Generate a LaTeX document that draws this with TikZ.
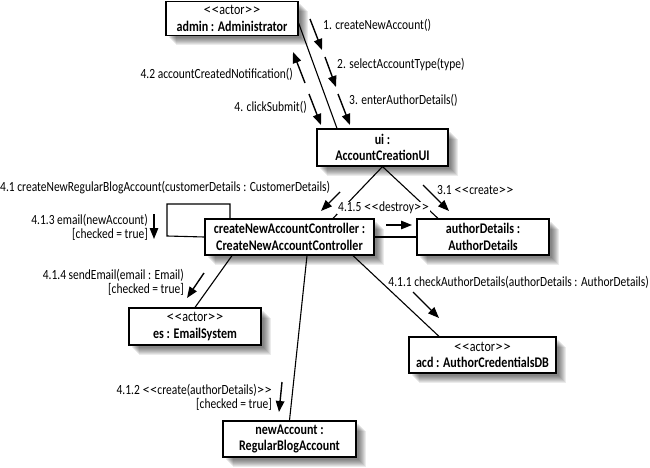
\documentclass[tikz,border=0pt]{standalone}
\usepackage{fontspec}
\usepackage{graphicx}
\setmainfont[FakeStretch=0.82]{Carlito}
\usetikzlibrary{shadows,arrows.meta}
\newcommand{\guilo}{\scalebox{1.3}[1]{<}\kern.1pt\scalebox{1.3}[1]{<}}
\newcommand{\guilc}{\scalebox{1.3}[1]{>}\kern.1pt\scalebox{1.3}[1]{>}}
\tikzset{
  softshade/.style={general shadow={shadow xshift=#1pt,shadow yshift=-#1pt,fill=black,opacity=.08}},
  objbox/.style={draw=black,fill=white,line width=1.2pt,align=center,inner sep=0pt,
    softshade=3,softshade=4,softshade=5,softshade=6,softshade=7,softshade=8,softshade=9,softshade=10,
    font=\fontsize{14.7}{16.5}\selectfont},
  wire/.style={draw=black,line width=1.1pt},
  msg/.style={draw=black,line width=1.4pt,-{Triangle[length=11pt,width=8.5pt]}},
  lab/.style={inner sep=0pt,font=\fontsize{14}{14}\selectfont,align=left},
  labr/.style={lab,align=right}
}
\begin{document}
\begin{tikzpicture}[x=1pt,y=-1pt]
\useasboundingbox (0,0) rectangle (650,468);
\coordinate (loopA) at (167,236);
\coordinate (loopB) at (167,204);
\coordinate (loopC) at (230,204);
\node[objbox,minimum width=132pt,minimum height=34pt] (admin) at (232,18.5) {\guilo actor\guilc\\\textbf{admin : Administrator}};
\node[objbox,minimum width=131pt,minimum height=37pt] (ui) at (382.5,147.5) {\textbf{ui :}\\\textbf{AccountCreationUI}};
\node[objbox,minimum width=169pt,minimum height=36pt] (ctrl) at (289.5,237) {\textbf{createNewAccountController :}\\\textbf{CreateNewAccountController}};
\node[objbox,minimum width=132pt,minimum height=36pt] (auth) at (483,237) {\textbf{authorDetails :}\\\textbf{AuthorDetails}};
\node[objbox,minimum width=132pt,minimum height=37pt] (es) at (195,326.5) {\guilo actor\guilc\\\textbf{es : EmailSystem}};
\node[objbox,minimum width=133pt,minimum height=36pt] (newacc) at (289.5,439) {\textbf{newAccount :}\\\textbf{RegularBlogAccount}};
\node[objbox,minimum width=147pt,minimum height=36pt] (acd) at (482.5,355) {\guilo actor\guilc\\\textbf{acd : AuthorCredentialsDB}};
\draw[wire] ([yshift=-4.5pt]admin.east) -- ([xshift=-45.5pt]ui.north);
\draw[wire] (ui.south) -- ([xshift=43.5pt]ctrl.north);
\draw[wire] (ui.south) -- ([xshift=-45pt]auth.north);
\draw[wire] (ctrl.east) -- (auth.west);
\draw[wire] (ctrl.west) -- (loopA) -- (loopB) -- (loopC) -- (ctrl.north -| loopC);
\draw[wire] ([xshift=-57.5pt]ctrl.south) -- (es.north);
\draw[wire] ([xshift=17.5pt]ctrl.south) -- (newacc.north);
\draw[wire] ([xshift=63.5pt]ctrl.south) -- ([xshift=-43.5pt]acd.north);
\coordinate (m1a) at (310,19);  \coordinate (m1b) at (322,50);
\coordinate (m2a) at (325,57);  \coordinate (m2b) at (336,87);
\coordinate (m3a) at (338,94);  \coordinate (m3b) at (350,125);
\coordinate (m42a) at (305,83); \coordinate (m42b) at (293,52);
\coordinate (m4a) at (309,94);  \coordinate (m4b) at (321,125);
\coordinate (m41a) at (340,192);\coordinate (m41b) at (321,211);
\coordinate (m31a) at (423,185);\coordinate (m31b) at (449,211);
\coordinate (m415a) at (386,225);\coordinate (m415b) at (412,225);
\coordinate (m411a) at (413,292);\coordinate (m411b) at (439,318);
\coordinate (m413a) at (154,214);\coordinate (m413b) at (154,239);
\coordinate (m414a) at (204,273);\coordinate (m414b) at (187,298);
\coordinate (m412a) at (282,382);\coordinate (m412b) at (279,412);
\foreach \p in {m1,m2,m3,m42,m4,m41,m31,m415,m411,m413,m414,m412}
  \draw[msg] (\p a) -- (\p b);
\node[lab,anchor=west] (l1) at (323,25) {1. createNewAccount()};
\node[lab,anchor=west] (l2) at (337,65) {2. selectAccountType(type)};
\node[lab,anchor=west] (l3) at (349,100) {3. enterAuthorDetails()};
\node[lab,anchor=east] (l42) at (293,74) {4.2 accountCreatedNotification()};
\node[lab,anchor=east] (l4) at (307,107) {4. clickSubmit()};
\node[lab,anchor=west] (l41) at (0,188) {4.1 createNewRegularBlogAccount(customerDetails : CustomerDetails)};
\node[lab,anchor=west,fill=white,inner xsep=1pt,inner ysep=0pt] (l415) at (337,208) {4.1.5 \guilo destroy\guilc};
\node[lab,anchor=west] (l31) at (437,190) {3.1 \guilo create\guilc};
\node[labr,anchor=east] (l413) at (148,227) {4.1.3 email(newAccount)\\{}[checked = true]};
\node[labr,anchor=east] (l414) at (184,282) {4.1.4 sendEmail(email : Email)\\{}[checked = true]};
\node[lab,anchor=east] (l411) at (649,282) {4.1.1 checkAuthorDetails(authorDetails : AuthorDetails)};
\node[labr,anchor=east] (l412) at (272,397) {4.1.2 \guilo create(authorDetails)\guilc\\{}[checked = true]};
\end{tikzpicture}
\end{document}
